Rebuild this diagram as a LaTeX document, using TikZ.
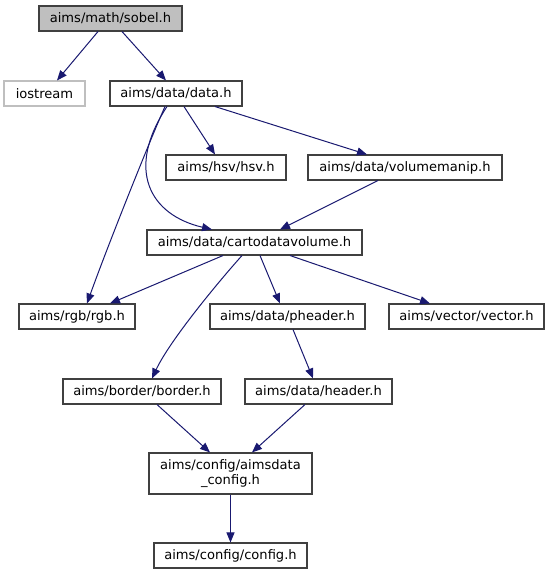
\documentclass[tikz,border=0pt]{standalone}
\usepackage{fontspec}
\setmainfont{DejaVu Sans}
\usetikzlibrary{arrows.meta,calc}
\definecolor{edgecol}{HTML}{191970}
\definecolor{boxcol}{HTML}{404040}
\definecolor{greyfill}{HTML}{BFBFBF}
\definecolor{lightline}{HTML}{BFBFBF}
\tikzset{
  box/.style={draw=boxcol, line width=0.8pt, fill=white, inner sep=0pt, minimum height=18.75pt,
    font=\fontsize{9.8}{11.5}\selectfont, align=center},
  rootbox/.style={box, fill=greyfill},
  extbox/.style={box, draw=lightline},
  edge/.style={draw=edgecol, line width=0.75pt, -{Triangle[length=7.5pt,width=6pt]}},
}
\begin{document}
\begin{tikzpicture}[x=0.75pt,y=-0.75pt]
\useasboundingbox (0,0) rectangle (549,575);
\node[rootbox, minimum width=107.25pt] (sobel) at (110.5,18.5) {aims/math/sobel.h};
\node[extbox, minimum width=60.75pt] (iostream) at (44.5,93.5) {iostream};
\node[box, minimum width=99pt] (data) at (176,93.5) {aims/data/data.h};
\node[box, minimum width=90pt] (hsv) at (226,167.5) {aims/hsv/hsv.h};
\node[box, minimum width=145.5pt] (vm) at (405,167.5) {aims/data/volumemanip.h};
\node[box, minimum width=161.25pt] (cart) at (254.5,242.5) {aims/data/cartodatavolume.h};
\node[box, minimum width=87pt] (rgb) at (77,316.5) {aims/rgb/rgb.h};
\node[box, minimum width=116.25pt] (pheader) at (287.5,316.5) {aims/data/pheader.h};
\node[box, minimum width=116.25pt] (vector) at (466.5,316.5) {aims/vector/vector.h};
\node[box, minimum width=118.5pt] (border) at (142,391.5) {aims/border/border.h};
\node[box, minimum width=110.25pt] (header) at (318.5,391.5) {aims/data/header.h};
\node[box, minimum width=122.25pt, minimum height=30.75pt] (aconfig) at (230.5,473.5) {aims/config/aimsdata\\\_config.h};
\node[box, minimum width=114.75pt] (config) at (230.5,555.5) {aims/config/config.h};

\draw[edge] ($(sobel.south)+(-12.5,0)$) -- ($(iostream.north)+(12.5,0)$);
\draw[edge] ($(sobel.south)+(11.5,0)$) -- ($(data.north)+(-10,0)$);
\draw[edge] ($(data.south)+(8,0)$) -- ($(hsv.north)+(-11,0)$);
\draw[edge] ($(data.south)+(39,0)$) -- ($(vm.north)+(-38,0)$);
\draw[edge] ($(data.south)+(-11,0)$) .. controls (150,140) and (108,245) .. ($(rgb.north)+(10,0)$);
\draw[edge] ($(data.south)+(-9,0)$) .. controls (125,170) and (150,215) .. ($(cart.north)+(-42.5,0)$);
\draw[edge] ($(vm.south)+(-27,0)$) -- ($(cart.north)+(25.5,0)$);
\draw[edge] ($(cart.south)+(-31.5,0)$) -- ($(rgb.north)+(33,0)$);
\draw[edge] ($(cart.south)+(5.5,0)$) -- ($(pheader.north)+(-7.5,0)$);
\draw[edge] ($(cart.south)+(35.5,0)$) -- ($(vector.north)+(-36.5,0)$);
\draw[edge] ($(cart.south)+(-12.5,0)$) .. controls (220,280) and (170,340) .. ($(border.north)+(10,0)$);
\draw[edge] ($(pheader.south)+(5.5,0)$) -- ($(header.north)+(-5.5,0)$);
\draw[edge] ($(border.south)+(15,0)$) -- ($(aconfig.north)+(-20.5,0)$);
\draw[edge] ($(header.south)+(-13.5,0)$) -- ($(aconfig.north)+(21.5,0)$);
\draw[edge] (aconfig.south) -- (config.north);
\end{tikzpicture}
\end{document}
